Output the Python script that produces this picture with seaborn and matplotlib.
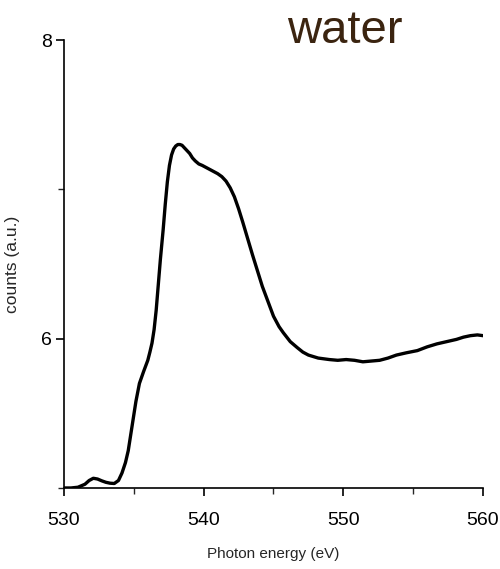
import matplotlib
matplotlib.use("Agg")
import matplotlib.pyplot as plt
from matplotlib.ticker import MultipleLocator
import seaborn as sns
import pandas as pd

# O K-edge absorption spectrum of water
energy = [530.0, 530.5, 531.0, 531.5, 531.8, 532.1, 532.4, 532.7, 533.0, 533.3,
          533.6, 533.9, 534.15, 534.4, 534.6, 534.9, 535.15, 535.4, 535.7, 536.0,
          536.15, 536.3, 536.45, 536.6, 536.75, 536.9, 537.1, 537.25, 537.4, 537.55,
          537.7, 537.85, 538.0, 538.15, 538.3, 538.45, 538.6, 538.8, 539.0, 539.2,
          539.4, 539.65, 539.9, 540.3, 540.7, 541.0, 541.3, 541.6, 541.9, 542.2,
          542.5, 542.8, 543.5, 544.2, 545.0, 545.4, 545.7, 546.2, 546.7, 547.1,
          547.5, 548.2, 549.0, 549.6, 550.2, 550.8, 551.4, 552.0, 552.6, 553.2,
          553.8, 554.5, 555.3, 556.0, 556.7, 557.4, 558.1, 558.6, 559.1, 559.6,
          560.0]
counts = [5.00, 5.00, 5.005, 5.025, 5.05, 5.065, 5.06, 5.048, 5.038, 5.032,
          5.03, 5.05, 5.10, 5.17, 5.25, 5.43, 5.58, 5.70, 5.78, 5.855,
          5.91, 5.97, 6.06, 6.19, 6.36, 6.53, 6.73, 6.90, 7.05, 7.16,
          7.23, 7.27, 7.29, 7.30, 7.30, 7.295, 7.28, 7.26, 7.24, 7.21,
          7.19, 7.17, 7.16, 7.14, 7.12, 7.105, 7.085, 7.055, 7.01, 6.95,
          6.87, 6.78, 6.56, 6.35, 6.15, 6.08, 6.04, 5.98, 5.94, 5.91,
          5.89, 5.87, 5.86, 5.855, 5.86, 5.855, 5.845, 5.85, 5.855, 5.87,
          5.89, 5.905, 5.92, 5.945, 5.965, 5.98, 5.995, 6.01, 6.02, 6.025,
          6.02]

x_major = [530, 540, 550, 560]
y_major = [6, 8]
title_text = "water"
x_label = "Photon energy (eV)"
y_label = "counts (a.u.)"

sns.set_style("ticks")
plt.rcParams["font.family"] = ["Liberation Sans", "DejaVu Sans"]

df = pd.DataFrame({"energy": energy, "counts": counts})

fig = plt.figure(figsize=(5.0, 5.69), dpi=100)
ax = fig.add_axes([0.128, 0.1424, 0.838, 0.7873])

sns.lineplot(data=df, x="energy", y="counts", ax=ax, color="black",
             linewidth=2.4, solid_joinstyle="round", solid_capstyle="round")

ax.set_xlim(530, 560)
ax.set_ylim(5, 8)
ax.set_xticks(x_major)
ax.set_yticks(y_major)
ax.xaxis.set_minor_locator(MultipleLocator(5))
ax.yaxis.set_minor_locator(MultipleLocator(1))
ax.tick_params(axis="both", which="major", direction="out", length=6, width=1.2,
               labelsize=14, color="black", labelcolor="black")
ax.tick_params(axis="both", which="minor", direction="out", length=4, width=1.0)
ax.tick_params(axis="x", pad=11)
ax.tick_params(axis="y", pad=3)

for side in ("top", "right"):
    ax.spines[side].set_visible(False)
for side in ("left", "bottom"):
    ax.spines[side].set_linewidth(1.2)
    ax.spines[side].set_color("black")

ax.set_xlabel(x_label, fontsize=11)
ax.xaxis.set_label_coords(0.5, -0.132)
ax.set_ylabel(y_label, fontsize=12.5)
ax.yaxis.set_label_coords(-0.105, 0.5)

fig.text(0.69, 0.945, title_text, fontsize=34, color="#3b2410",
         ha="center", va="center")

fig.savefig("out.png", dpi=100)
